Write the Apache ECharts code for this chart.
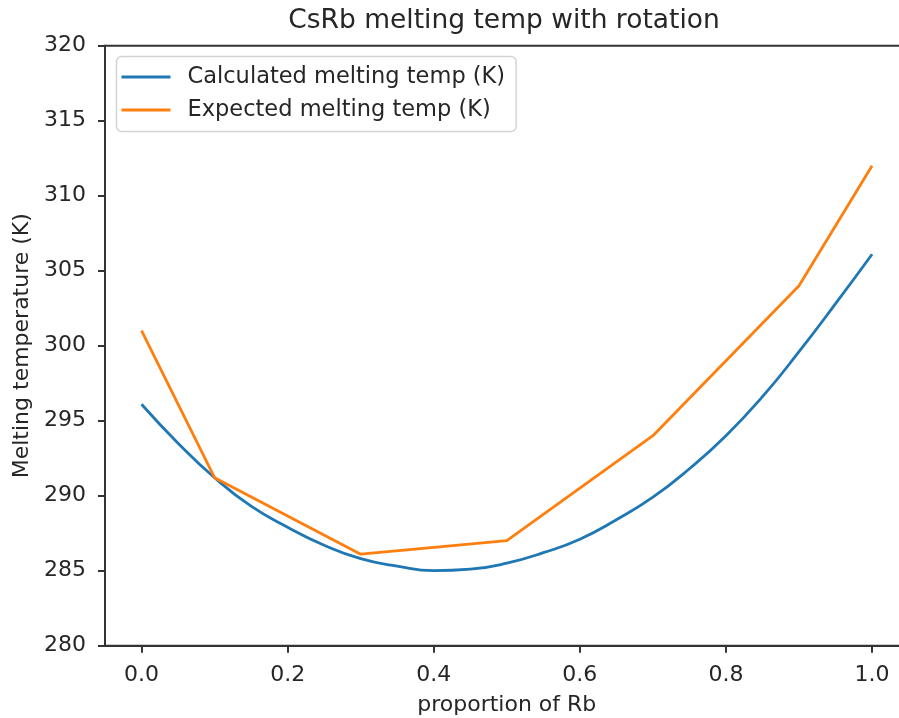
<!DOCTYPE html>
<html>
<head>
<meta charset="utf-8">
<script src="https://cdn.jsdelivr.net/npm/echarts@6/dist/echarts.min.js"></script>
<style>
html,body{margin:0;padding:0;background:#fff;}
#chart{width:899px;height:718px;}
</style>
</head>
<body>
<div id="chart"></div>
<script>
// Calculated (smooth curve) samples
const calcX = [0.00,0.05,0.10,0.15,0.20,0.25,0.30,0.35,0.40,0.45,0.50,0.55,0.60,0.65,0.70,0.75,0.80,0.85,0.90,0.95,1.00];
const calcY = [296.1,293.5,291.2,289.3,287.9,286.7,285.8,285.3,285.0,285.1,285.5,286.2,287.1,288.4,289.9,291.8,294.0,296.6,299.6,302.8,306.1];
// Expected (measured) points
const expX = [0.0,0.1,0.3,0.5,0.7,0.9,1.0];
const expY = [301,291.2,286.1,287,294,304,312];
const xTicks = [0,0.2,0.4,0.6,0.8,1.0];
const seriesNames = ['Calculated melting temp (K)','Expected melting temp (K)'];

const font = 'DejaVu Sans';
const textColor = '#262626';
const fs = 22;
const chart = echarts.init(document.getElementById('chart'), null, {renderer:'canvas'});
chart.setOption({
  animation:false,
  backgroundColor:'#fff',
  title:{
    text:'CsRb melting temp with rotation',
    left:499, top:3, textAlign:'center',
    textStyle:{fontFamily:font, fontSize:26.5, fontWeight:'normal', color:textColor}
  },
  legend:{
    orient:'vertical', left:116.5, top:56.5,
    padding:[9,11,10,5],
    itemGap:10,
    itemWidth:49, itemHeight:3,
    icon:'rect',
    borderColor:'#d4d4d4', borderWidth:1.5, borderRadius:5,
    backgroundColor:'rgba(255,255,255,0.8)',
    textStyle:{fontFamily:font, fontSize:22.5, color:textColor, padding:[0,0,0,12]},
    data:seriesNames
  },
  grid:{left:105, top:45.7, bottom:72.3, right:-9.6, outerBoundsMode:'none', containLabel:false,
        show:true, borderColor:'#333', borderWidth:2},
  xAxis:{
    type:'value', min:-0.05, max:1.05,
    name:'proportion of Rb', nameLocation:'middle', nameGap:49,
    nameTextStyle:{fontFamily:font, fontSize:fs, color:textColor},
    axisLine:{show:true, onZero:false, lineStyle:{color:'#333', width:2}},
    axisTick:{show:true, length:7, lineStyle:{color:'#333', width:2}, customValues:xTicks},
    axisLabel:{fontFamily:font, fontSize:fs, color:textColor, margin:19, customValues:xTicks,
      formatter:v=>Number(v).toFixed(1)},
    splitLine:{show:false}
  },
  yAxis:{
    type:'value', min:280, max:320, interval:5,
    name:'Melting temperature (K)', nameLocation:'middle', nameGap:70,
    nameTextStyle:{fontFamily:font, fontSize:fs, color:textColor},
    axisLine:{show:true, onZero:false, lineStyle:{color:'#333', width:2}},
    axisTick:{show:true, length:7, lineStyle:{color:'#333', width:2}},
    axisLabel:{fontFamily:font, fontSize:fs, color:textColor, margin:19},
    splitLine:{show:false}
  },
  series:[
    {name:seriesNames[0], type:'line', smooth:true, showSymbol:false, symbol:'none',
     data:calcX.map((x,i)=>[x,calcY[i]]),
     lineStyle:{color:'#1f77b4', width:2.8}, itemStyle:{color:'#1f77b4'}},
    {name:seriesNames[1], type:'line', showSymbol:false, symbol:'none',
     data:expX.map((x,i)=>[x,expY[i]]),
     lineStyle:{color:'#ff7f0e', width:2.8}, itemStyle:{color:'#ff7f0e'}}
  ]
});
</script>
</body>
</html>
